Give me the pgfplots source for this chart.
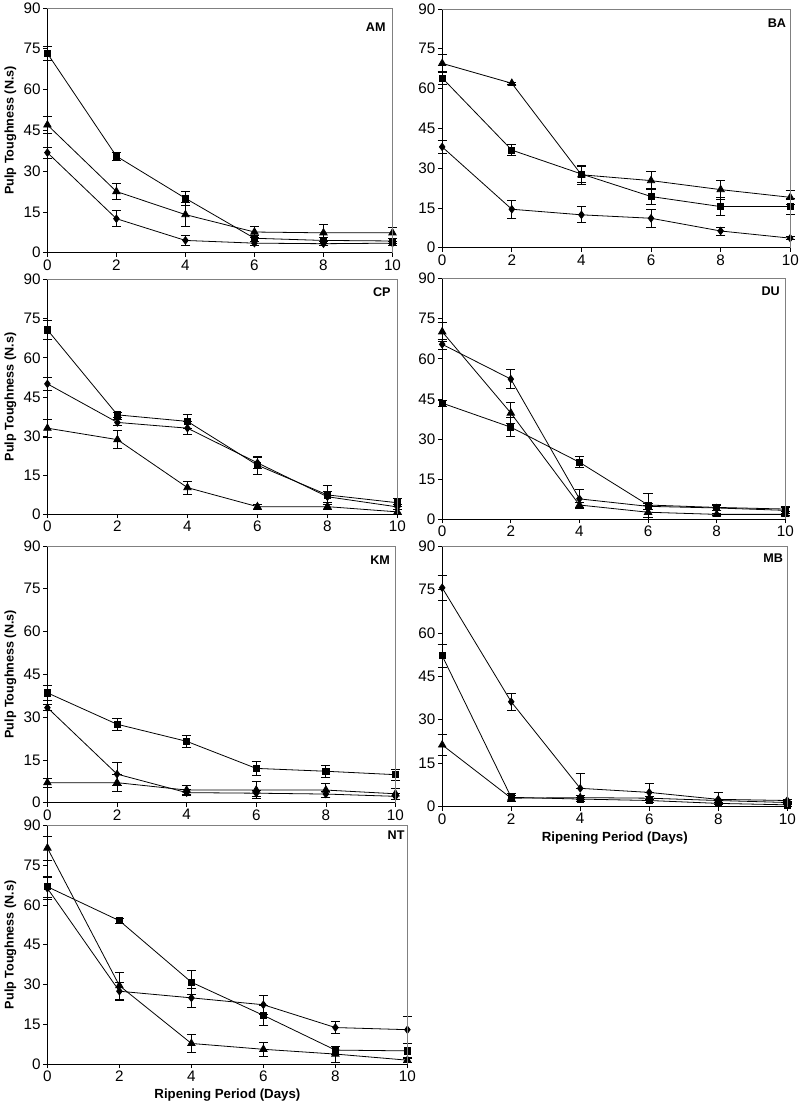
\documentclass[border=0pt]{standalone}
\usepackage{fontspec}
\setmainfont{Liberation Sans}
\usepackage{pgfplots}
\pgfplotsset{compat=1.18}

\pgfplotsset{
  panel/.style={
    scale only axis, anchor=south west, clip=false,
    xmin=0, xmax=10, ymin=0, ymax=90,
    xtick={0,2,...,10}, ytick={0,15,...,90},
    axis lines=left, axis line style={-, black, line width=0.6pt},
    tick align=outside, major tick length=3pt,
    tick style={black, line width=0.5pt},
    tick label style={font=\fontsize{11.5}{12}\selectfont},
    yticklabel style={inner sep=2pt},
    xticklabel style={inner sep=2pt},
    /pgf/number format/assume math mode=true,
    ylabel style={font=\bfseries\fontsize{9.5}{11}\selectfont},
    xlabel style={font=\bfseries\fontsize{10}{12}\selectfont},
    after end axis/.code={
      \draw[gray, line width=0.6pt] (rel axis cs:0,1) -- (rel axis cs:1,1) -- (rel axis cs:1,0);},
  },
  eb/.style={
    black, line width=0.6pt,
    /pgfplots/error bars/y dir=both,
    /pgfplots/error bars/y explicit,
    /pgfplots/error bars/error bar style={line width=0.6pt, black},
    /pgfplots/error bars/error mark options={rotate=90, black, mark size=3.5pt, line width=0.6pt}},
  sq/.style={eb, mark=square*, mark size=2.3pt},
  tri/.style={eb, mark=triangle*, mark size=3.2pt},
  dia/.style={eb, mark=diamond*, mark size=2.8pt},
}
\tikzset{lab/.style={anchor=north east, inner sep=0pt, font=\bfseries\fontsize{9.5}{10}\selectfont}}

\begin{document}
\begin{tikzpicture}
\path (0,0) rectangle (598.5pt,-829.5pt);

% AM
\begin{axis}[panel, at={(32.25pt,-189pt)}, width=260.25pt, height=184.5pt,
    ylabel={Pulp Toughness (N.s)}]
  \addplot[sq] coordinates {(0,73.3) +- (0,2.5) (2,35.5) +- (0,1.5) (4,20) +- (0,2.5)
    (6,5.3) +- (0,1) (8,4.5) +- (0,1) (10,4.3) +- (0,1)};
  \addplot[tri] coordinates {(0,47) +- (0,3) (2,22.5) +- (0,3) (4,14) +- (0,4.5)
    (6,7.6) +- (0,2) (8,7.3) +- (0,3) (10,7.3) +- (0,2)};
  \addplot[dia] coordinates {(0,36.8) +- (0,2) (2,12.5) +- (0,3) (4,4.5) +- (0,2)
    (6,3.5) +- (0,0.8) (8,3.3) +- (0,0.8) (10,3.5) +- (0,0.8)};
  \node[lab] at ([xshift=-5pt,yshift=-11pt]rel axis cs:1,1) {AM};
\end{axis}

% BA
\begin{axis}[panel, at={(330pt,-185.25pt)}, width=262.5pt, height=180pt]
  \addplot[tri] coordinates {(0,69.5) +- (0,3.5) (2,62) +- (0,0.5) (4,27.5) +- (0,3.5)
    (6,25.3) +- (0,3.5) (8,21.9) +- (0,3.5) (10,19) +- (0,2.5)};
  \addplot[sq] coordinates {(0,64) +- (0,2.5) (2,36.8) +- (0,2) (4,27.8) +- (0,3)
    (6,19.3) +- (0,3) (8,15.5) +- (0,3.3) (10,15.5) +- (0,3)};
  \addplot[dia] coordinates {(0,38) +- (0,2.5) (2,14.5) +- (0,3.5) (4,12.4) +- (0,3)
    (6,11.1) +- (0,3.5) (8,6.3) +- (0,1.5) (10,3.6) +- (0,0.5)};
  \node[lab] at ([xshift=-3pt,yshift=-7pt]rel axis cs:1,1) {BA};
\end{axis}

% CP
\begin{axis}[panel, at={(32.25pt,-386.25pt)}, width=264pt, height=177pt,
    ylabel={Pulp Toughness (N.s)}]
  \addplot[sq] coordinates {(0,70.7) +- (0,3.5) (2,38.1) +- (0,1) (4,35.6) +- (0,2.5)
    (6,18.8) +- (0,3.5) (8,7.4) +- (0,3.5) (10,4.4) +- (0,1.5)};
  \addplot[dia] coordinates {(0,50) +- (0,2.5) (2,35.2) +- (0,1) (4,33) +- (0,2.5)
    (6,19.7) +- (0,2) (8,6.7) +- (0,2) (10,2.8) +- (0,1)};
  \addplot[tri] coordinates {(0,33) +- (0,3.5) (2,28.6) +- (0,3.5) (4,10.2) +- (0,2.5)
    (6,2.9) +- (0,1) (8,2.9) +- (0,1) (10,0.9) +- (0,1)};
  \node[lab] at ([xshift=-5pt,yshift=-6pt]rel axis cs:1,1) {CP};
\end{axis}

% DU
\begin{axis}[panel, at={(330pt,-390pt)}, width=258.75pt, height=181.5pt]
  \addplot[tri] coordinates {(0,70.1) +- (0,3.5) (2,39.7) +- (0,4) (4,5.3) +- (0,1)
    (6,2.6) +- (0,2.5) (8,1.8) +- (0,0.5) (10,1.8) +- (0,0.5)};
  \addplot[dia] coordinates {(0,65.4) +- (0,2) (2,52.4) +- (0,3.5) (4,7.6) +- (0,3.5)
    (6,4.8) +- (0,1) (8,4.2) +- (0,1) (10,3.3) +- (0,1)};
  \addplot[sq] coordinates {(0,43.4) +- (0,1.2) (2,34.4) +- (0,3.5) (4,21.3) +- (0,2)
    (6,5.3) +- (0,4.5) (8,4.4) +- (0,1) (10,3.8) +- (0,1)};
  \node[lab] at ([xshift=-4pt,yshift=-6pt]rel axis cs:1,1) {DU};
\end{axis}

% KM
\begin{axis}[panel, at={(32.25pt,-603.75pt)}, width=262.5pt, height=193.5pt,
    ylabel={Pulp Toughness (N.s)}]
  \addplot[sq] coordinates {(0,38.5) +- (0,2.5) (2,27.5) +- (0,2) (4,21.5) +- (0,2)
    (6,12) +- (0,2.5) (8,11) +- (0,2) (10,9.8) +- (0,2)};
  \addplot[dia] coordinates {(0,33.3) +- (0,1) (2,10) +- (0,4) (4,3.5) +- (0,1)
    (6,3.3) +- (0,1) (8,3) +- (0,1) (10,2.2) +- (0,1)};
  \addplot[tri] coordinates {(0,7) +- (0,1.5) (2,7) +- (0,3) (4,4.4) +- (0,1.5)
    (6,4.4) +- (0,3) (8,4.4) +- (0,2.5) (10,3.1) +- (0,2)};
  \node[lab] at ([xshift=-4pt,yshift=-7pt]rel axis cs:1,1) {KM};
\end{axis}

% MB
\begin{axis}[panel, at={(330pt,-606.75pt)}, width=260.25pt, height=196.5pt,
    xlabel={Ripening Period (Days)}]
  \addplot[dia] coordinates {(0,75.6) +- (0,4.3) (2,36.2) +- (0,3) (4,6.3) += (0,5) -= (0,0)
    (6,4.9) += (0,3) -= (0,0) (8,2.5) += (0,2.5) -= (0,0) (10,2.1) +- (0,0.5)};
  \addplot[sq] coordinates {(0,52.1) +- (0,4) (2,3.2) +- (0,1.5) (4,2.6) +- (0,0.7)
    (6,2.1) +- (0,0.5) (8,1.1) +- (0,0.5) (10,0.6) +- (0,0.5)};
  \addplot[tri] coordinates {(0,21.3) +- (0,3.5) (2,2.9) +- (0,1) (4,3.1) +- (0,0.7)
    (6,2.9) +- (0,0.5) (8,2.1) +- (0,0.5) (10,1.4) +- (0,0.5)};
  \node[lab] at ([xshift=-3pt,yshift=-6pt]rel axis cs:1,1) {MB};
\end{axis}

% NT
\begin{axis}[panel, at={(32.25pt,-801pt)}, width=271.5pt, height=180pt,
    ylabel={Pulp Toughness (N.s)}, xlabel={Ripening Period (Days)}]
  \addplot[tri] coordinates {(0,81.5) +- (0,4.5) (2,29.6) +- (0,5) (4,7.8) +- (0,3.3)
    (6,5.6) +- (0,2.5) (8,3.8) +- (0,3) (10,1.5) +- (0,1)};
  \addplot[sq] coordinates {(0,66.9) +- (0,4) (2,54.1) +- (0,1) (4,30.9) +- (0,4.5)
    (6,18.4) +- (0,3.8) (8,5.3) +- (0,1.5) (10,5) +- (0,3)};
  \addplot[dia] coordinates {(0,66.3) +- (0,4) (2,27.5) +- (0,3.5) (4,25) +- (0,3.5)
    (6,22.4) +- (0,3.7) (8,13.8) +- (0,2.2) (10,13) +- (0,5)};
  \node[lab] at ([xshift=-2pt,yshift=-4pt]rel axis cs:1,1) {NT};
\end{axis}
\end{tikzpicture}
\end{document}
